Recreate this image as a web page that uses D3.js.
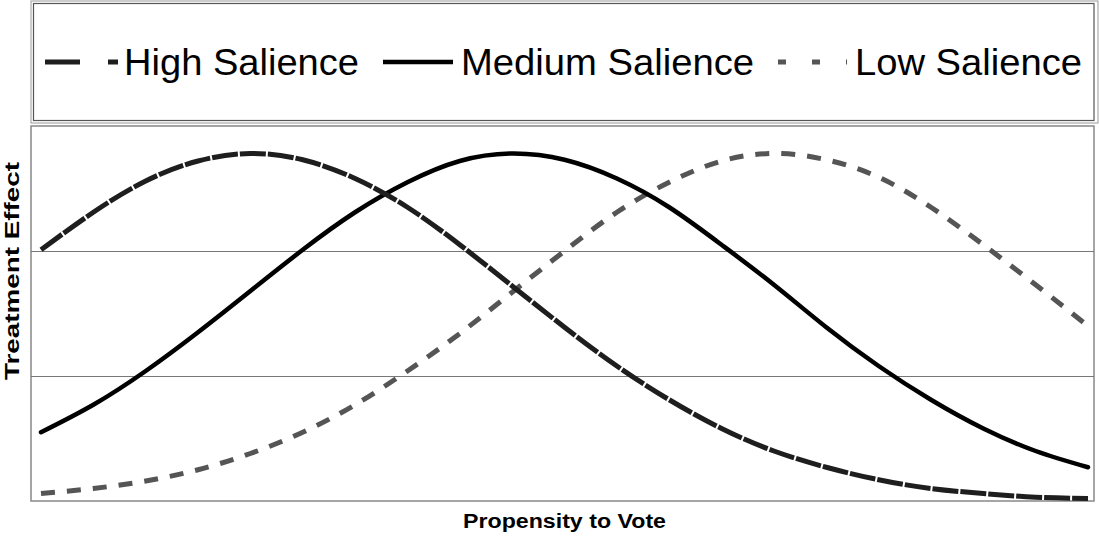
<!DOCTYPE html>
<html>
<head>
<meta charset="utf-8">
<script src="https://cdn.jsdelivr.net/npm/d3@7"></script>
<style>
  html, body { margin: 0; padding: 0; background: #fff; }
  svg { display: block; font-family: Arial, "Liberation Sans", sans-serif; }
</style>
</head>
<body>
<div id="chart"></div>
<script>
// propensity to vote (x), 21 sample points across the axis
const propensity = [0, 0.05, 0.1, 0.15, 0.2, 0.25, 0.3, 0.35, 0.4, 0.45, 0.5,
                    0.55, 0.6, 0.65, 0.7, 0.75, 0.8, 0.85, 0.9, 0.95, 1];
// treatment effect (gridlines at 1 and 2)
const highSalience   = [2.01, 2.31, 2.56, 2.72, 2.78, 2.73, 2.58, 2.35, 2.05, 1.72, 1.39,
                        1.08, 0.81, 0.58, 0.40, 0.27, 0.17, 0.10, 0.06, 0.03, 0.02];
const mediumSalience = [0.55, 0.77, 1.04, 1.35, 1.68, 2.01, 2.31, 2.55, 2.72, 2.78, 2.73,
                        2.58, 2.35, 2.05, 1.73, 1.39, 1.08, 0.81, 0.58, 0.40, 0.27];
const lowSalience    = [0.06, 0.10, 0.16, 0.25, 0.38, 0.55, 0.77, 1.04, 1.34, 1.67, 2.00,
                        2.31, 2.55, 2.72, 2.78, 2.73, 2.59, 2.35, 2.05, 1.73, 1.40];
const seriesNames = ["High Salience", "Medium Salience", "Low Salience"];
const gridValues = [1, 2];

(() => {
    const width = 1099, height = 536;
    const plot = { left: 31, right: 1094, top: 126, bottom: 501 };

    const styles = {
        "High Salience":   { color: "#1e1e1e", dash: "26,2", legendDash: "35,28", width: 5 },
        "Medium Salience": { color: "#000000", dash: null, legendDash: null, width: 4.5 },
        "Low Salience":    { color: "#555555", dash: "14,12", legendDash: "8,26", width: 5 }
    };
    const values = {
        "High Salience": highSalience,
        "Medium Salience": mediumSalience,
        "Low Salience": lowSalience
    };

    const svg = d3.select("#chart")
        .append("svg")
        .attr("width", width)
        .attr("height", height);

    const x = d3.scaleLinear().domain([0, 1]).range([41, 1088]);
    const y = d3.scaleLinear().domain([0, 3]).range([plot.bottom, plot.top]);

    // legend frame (double line)
    svg.append("rect")
        .attr("x", 31).attr("y", 1)
        .attr("width", 1067).attr("height", 122)
        .attr("fill", "none").attr("stroke", "#999").attr("stroke-width", 1);
    svg.append("rect")
        .attr("x", 33.5).attr("y", 3.5)
        .attr("width", 1060.5).attr("height", 117)
        .attr("fill", "#fff").attr("stroke", "#555").attr("stroke-width", 1.2);

    // plot area border
    svg.append("rect")
        .attr("x", plot.left).attr("y", plot.top)
        .attr("width", plot.right - plot.left).attr("height", plot.bottom - plot.top)
        .attr("fill", "none").attr("stroke", "#888").attr("stroke-width", 1.5);

    // gridlines
    svg.append("g")
        .attr("transform", `translate(${plot.left},0)`)
        .call(d3.axisRight(y).tickValues(gridValues).tickSize(plot.right - plot.left).tickFormat(""))
        .call(g => g.select(".domain").remove())
        .call(g => g.selectAll(".tick line").attr("stroke", "#777").attr("stroke-width", 1.2));

    const line = d3.line()
        .x((d, i) => x(propensity[i]))
        .y(d => y(d))
        .curve(d3.curveNatural);

    // draw back to front: low, medium, high
    ["Low Salience", "Medium Salience", "High Salience"].forEach(name => {
        const s = styles[name];
        svg.append("path")
            .datum(values[name])
            .attr("fill", "none")
            .attr("stroke", s.color)
            .attr("stroke-width", s.width)
            .attr("stroke-dasharray", s.dash)
            .attr("stroke-linecap", name === "Medium Salience" ? "round" : "butt")
            .attr("d", line);
    });

    // legend
    const legendItems = [
        { name: seriesNames[0], x1: 45, x2: 118, tx: 124, tl: 235 },
        { name: seriesNames[1], x1: 383, x2: 453, tx: 461, tl: 293 },
        { name: seriesNames[2], x1: 778, x2: 847, tx: 855, tl: 227 }
    ];
    const legend = svg.append("g");
    legendItems.forEach(d => {
        const s = styles[d.name];
        legend.append("line")
            .attr("x1", d.x1).attr("x2", d.x2)
            .attr("y1", 62).attr("y2", 62)
            .attr("stroke", s.color)
            .attr("stroke-width", s.width)
            .attr("stroke-dasharray", s.legendDash);
        legend.append("text")
            .attr("x", d.tx).attr("y", 75)
            .attr("textLength", d.tl)
            .attr("lengthAdjust", "spacingAndGlyphs")
            .style("font-size", "36px")
            .style("fill", "#000")
            .text(d.name);
    });

    // axis titles
    svg.append("text")
        .attr("x", 463).attr("y", 528)
        .attr("textLength", 203)
        .attr("lengthAdjust", "spacingAndGlyphs")
        .style("font-size", "20px")
        .style("font-weight", "bold")
        .text("Propensity to Vote");

    svg.append("text")
        .attr("transform", "translate(19,271) rotate(-90)")
        .attr("text-anchor", "middle")
        .attr("textLength", 218)
        .attr("lengthAdjust", "spacingAndGlyphs")
        .style("font-size", "20px")
        .style("font-weight", "bold")
        .text("Treatment Effect");
})();
</script>
</body>
</html>
